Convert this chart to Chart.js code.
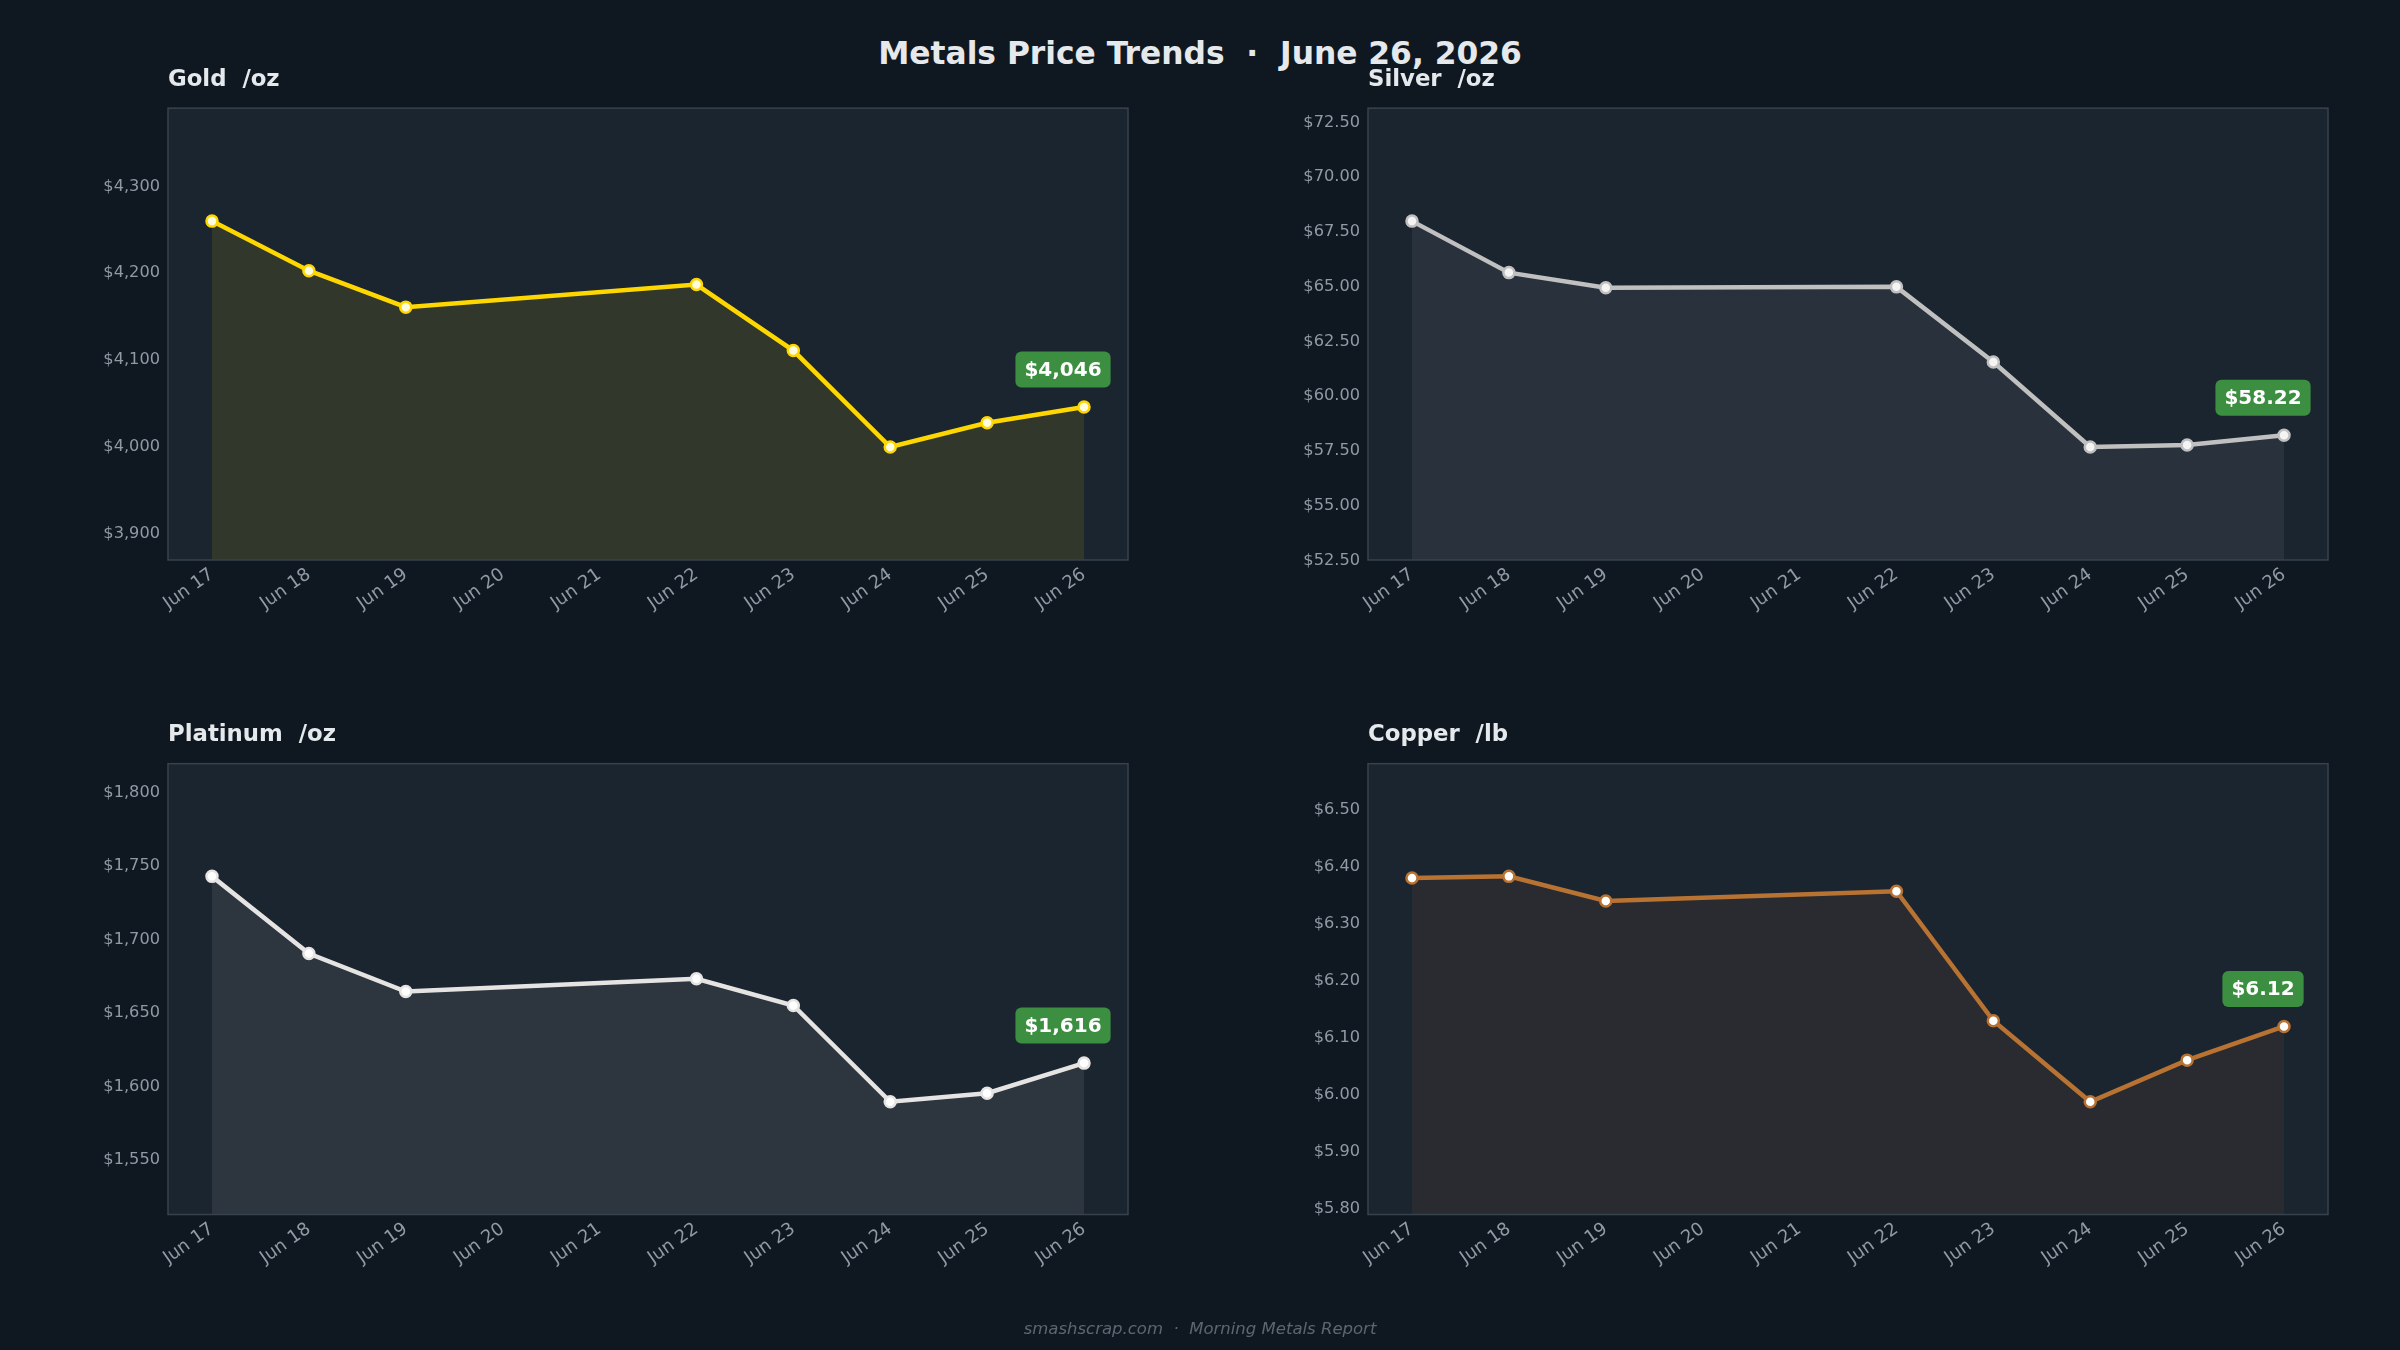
<!DOCTYPE html>
<html>
<head>
<meta charset="utf-8">
<script src="https://cdn.jsdelivr.net/npm/chart.js@4.4.1/dist/chart.umd.min.js"></script>
<style>
  html, body { margin: 0; padding: 0; background: #0f1821; }
  body { width: 2400px; height: 1350px; position: relative; overflow: hidden; font-family: "DejaVu Sans", sans-serif; }
  #titulo { position: absolute; left: 0; top: 33px; width: 2400px; line-height: 40px; text-align: center;
            color: #e6e9ec; font-size: 31.3px; font-weight: bold; white-space: pre; }
  #pie { position: absolute; left: 0; top: 1317px; width: 2400px; line-height: 24px; text-align: center;
         color: #5b6671; font-size: 16.5px; font-style: italic; white-space: pre; }
  canvas { position: absolute; }
</style>
</head>
<body>
<div id="titulo">Metals Price Trends  ·  June 26, 2026</div>
<canvas id="oro" width="1200" height="675" style="left:0;top:0"></canvas>
<canvas id="plata" width="1200" height="675" style="left:1200px;top:0"></canvas>
<canvas id="platino" width="1200" height="675" style="left:0;top:675px"></canvas>
<canvas id="cobre" width="1200" height="675" style="left:1200px;top:675px"></canvas>
<div id="pie">smashscrap.com  ·  Morning Metals Report</div>

<script>
// datos del grafico
const fechas = ["Jun 17", "Jun 18", "Jun 19", "Jun 20", "Jun 21", "Jun 22", "Jun 23", "Jun 24", "Jun 25", "Jun 26"];
const diasHabiles = ["Jun 17", "Jun 18", "Jun 19", "Jun 22", "Jun 23", "Jun 24", "Jun 25", "Jun 26"];

const oro = [4260, 4203, 4161, 4187, 4111, 4000, 4028, 4046];
const plata = [67.99, 65.64, 64.95, 64.99, 61.56, 57.68, 57.77, 58.22];
const platino = [1743, 1690.5, 1664.7, 1673.4, 1655.2, 1589.7, 1595.5, 1616];
const cobre = [6.38, 6.383, 6.34, 6.357, 6.13, 5.988, 6.061, 6.12];

const ticksOro = [3900, 4000, 4100, 4200, 4300];
const ticksPlata = [52.5, 55, 57.5, 60, 62.5, 65, 67.5, 70, 72.5];
const ticksPlatino = [1550, 1600, 1650, 1700, 1750, 1800];
const ticksCobre = [5.8, 5.9, 6.0, 6.1, 6.2, 6.3, 6.4, 6.5];

Chart.defaults.font.family = "'DejaVu Sans', sans-serif";

const formatoMiles = (v) => "$" + Math.round(v).toLocaleString("en-US");
const formatoDec = (v) => "$" + v.toFixed(2);

// fondo y borde del area del grafico
const fondoPlot = {
  id: "fondoPlot",
  beforeDraw(chart) {
    const { ctx, chartArea: a } = chart;
    ctx.save();
    ctx.fillStyle = "#1b2530";
    ctx.fillRect(a.left, a.top, a.right - a.left, a.bottom - a.top);
    ctx.restore();
  },
  afterDatasetsDraw(chart) {
    const { ctx, chartArea: a } = chart;
    ctx.save();
    ctx.strokeStyle = "#36434f";
    ctx.lineWidth = 1.5;
    ctx.strokeRect(a.left, a.top, a.right - a.left, a.bottom - a.top);
    ctx.restore();
  },
};

// etiqueta verde con el ultimo precio
const etiqueta = {
  id: "etiqueta",
  afterDatasetsDraw(chart, args, opts) {
    const meta = chart.getDatasetMeta(0);
    const p = meta.data[meta.data.length - 1];
    const ctx = chart.ctx;
    ctx.save();
    ctx.font = "bold 20px 'DejaVu Sans'";
    const w = ctx.measureText(opts.texto).width + 18;
    const h = 36;
    const cx = p.x - 21;
    const cy = p.y - 37.5;
    ctx.fillStyle = "#3c8f40";
    ctx.beginPath();
    ctx.roundRect(cx - w / 2, cy - h / 2, w, h, 6);
    ctx.fill();
    ctx.fillStyle = "#ffffff";
    ctx.textAlign = "center";
    ctx.textBaseline = "middle";
    ctx.fillText(opts.texto, cx, cy + 1);
    ctx.restore();
  },
};

function crearPanel(id, titulo, valores, ticks, formato, color, relleno, puntoFondo, arriba) {
  const minimo = Math.min(...valores);
  const maximo = Math.max(...valores);
  const rango = maximo - minimo;
  const ultimo = valores[valores.length - 1];

  const config = {
    type: "line",
    data: {
      datasets: [
        {
          data: diasHabiles.map((d, i) => ({ x: fechas.indexOf(d), y: valores[i] })),
          borderColor: color,
          borderWidth: 4.5,
          backgroundColor: relleno,
          fill: "start",
          tension: 0,
          pointRadius: 5.5,
          pointBorderWidth: 2.5,
          pointBorderColor: color,
          pointBackgroundColor: puntoFondo,
        },
      ],
    },
    options: {
      responsive: false,
      animation: false,
      layout: { padding: { left: 0, right: 72, top: 0, bottom: 0 } },
      plugins: {
        legend: { display: false },
        tooltip: { enabled: false },
        title: {
          display: true,
          text: titulo,
          align: "start",
          fullSize: false,
          color: "#e6e9ec",
          font: { size: 22.8, weight: "bold" },
          padding: arriba ? { top: 66, bottom: 14.8 } : { top: 46.3, bottom: 15 },
        },
        etiqueta: { texto: formato(ultimo) },
      },
      scales: {
        x: {
          type: "linear",
          min: -0.454,
          max: 9.454,
          grid: { display: false, drawTicks: false },
          border: { display: false },
          afterBuildTicks: (s) => { s.ticks = fechas.map((f, i) => ({ value: i })); },
          afterFit: (s) => { s.height = arriba ? 115 : 135.5; },
          ticks: {
            color: "#8f9aa5",
            font: { size: 18 },
            minRotation: 35,
            maxRotation: 35,
            autoSkip: false,
            padding: 4,
            callback: (v) => fechas[v],
          },
        },
        y: {
          min: minimo - rango * 0.5,
          max: maximo + rango * 0.5,
          grid: { display: false, drawTicks: false },
          border: { display: false },
          afterBuildTicks: (s) => { s.ticks = ticks.map((v) => ({ value: v })); },
          afterFit: (s) => { s.width = 168; },
          ticks: { color: "#8f9aa5", font: { size: 16.2 }, padding: 8, callback: formato },
        },
      },
    },
    plugins: [fondoPlot, etiqueta],
  };
  return new Chart(document.getElementById(id), config);
}

crearPanel("oro", "Gold  /oz", oro, ticksOro, formatoMiles, "#ffd700", "rgba(255, 215, 0, 0.1)", "#fffbe0", true);
crearPanel("plata", "Silver  /oz", plata, ticksPlata, formatoDec, "#c0c0c0", "rgba(192, 192, 192, 0.09)", "#f4f4f4", true);
crearPanel("platino", "Platinum  /oz", platino, ticksPlatino, formatoMiles, "#e5e4e2", "rgba(229, 228, 226, 0.09)", "#ffffff", false);
crearPanel("cobre", "Copper  /lb", cobre, ticksCobre, formatoDec, "#b87333", "rgba(184, 115, 51, 0.09)", "#ffffff", false);
</script>
</body>
</html>
